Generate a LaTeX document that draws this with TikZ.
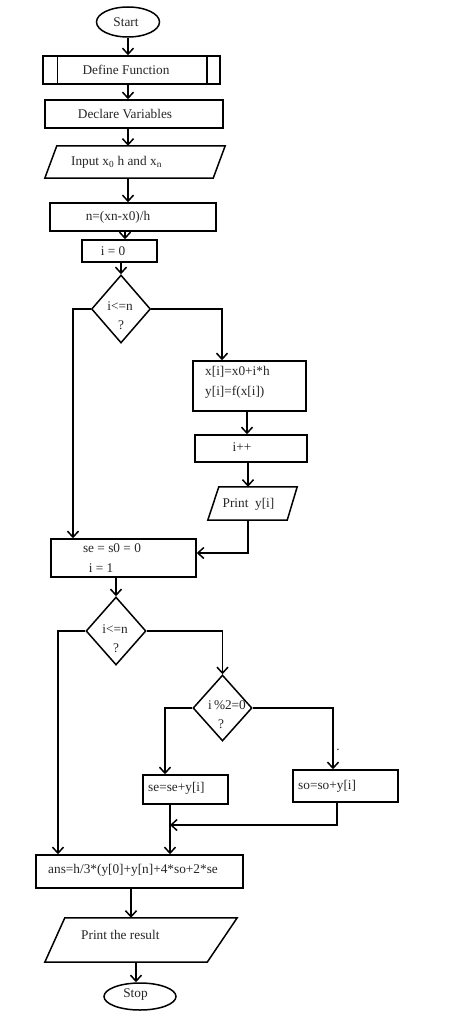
\documentclass[tikz,border=0pt]{standalone}
\usepackage{fontspec}
\setmainfont{Liberation Serif}
\usetikzlibrary{arrows.meta,shapes.geometric,calc}
\begin{document}
\begin{tikzpicture}[x=1pt,y=-1pt,
  shp/.style={draw, line width=1.5pt, inner sep=0pt},
  frame/.style={inner sep=0pt},
  lbl/.style={inner sep=0pt, font=\fontsize{13.3}{16}\selectfont, text=black!85},
  ln/.style={line width=1.5pt},
  arr/.style={line width=1.5pt, -{Straight Barb[length=6pt,width=11pt]}}]
\useasboundingbox[fill=white] (0,0) rectangle (452,1024);

% terminals and boxes
\node[shp, ellipse, minimum width=63pt, minimum height=30pt] (start) at (128,22) {};
\node[lbl] (tstart) at (126,22) {Start};

\node[shp, minimum width=177pt, minimum height=28pt] (def) at (131.5,70) {};
\draw[ln] ([xshift=15pt]def.north west) -- ([xshift=15pt]def.south west);
\draw[ln] ([xshift=-14pt]def.north east) -- ([xshift=-14pt]def.south east);
\node[lbl] (tdef) at (126,70) {Define Function};

\node[shp, minimum width=178pt, minimum height=28pt] (decl) at (134,114) {};
\node[lbl] (tdecl) at (125,114) {Declare Variables};

\node[frame, minimum width=180pt, minimum height=32pt] (inp) at (135,162) {};
\draw[ln] (inp.south west) -- ([xshift=-12pt]inp.south east) -- (inp.north east) -- ([xshift=12pt]inp.north west) -- cycle;
\node[lbl] (tinp) at (116.5,162) {Input x\textsubscript{0} h and x\textsubscript{n}};

\node[shp, minimum width=166pt, minimum height=28pt] (nb) at (133,217) {};
\node[lbl] (tnb) at (118,217) {n=(xn-x0)/h};

\node[shp, minimum width=75pt, minimum height=22pt] (i0) at (119.5,251) {};
\node[lbl] (ti0) at (113,251) {i = 0};

\node[shp, diamond, minimum width=59pt, minimum height=68pt] (d1) at (121,309) {};
\node[lbl] (td1a) at (120,306) {i<=n};
\node[lbl] (td1b) at (121,325) {?};

\node[shp, minimum width=113pt, minimum height=50pt] (xb) at (249.5,386) {};
\node[lbl, anchor=west] (txb1) at (205,372) {x[i]=x0+i*h};
\node[lbl, anchor=west] (txb2) at (205,392) {y[i]=f(x[i])};

\node[shp, minimum width=112pt, minimum height=27pt] (ipp) at (251,448.5) {};
\node[lbl] (tipp) at (242,447) {i++};

\node[frame, minimum width=89pt, minimum height=33pt] (py) at (252.5,503.5) {};
\draw[ln] (py.south west) -- ([xshift=-10pt]py.south east) -- (py.north east) -- ([xshift=11pt]py.north west) -- cycle;
\node[lbl] (tpy) at (248.5,504) {Print\enspace y[i]};

\node[shp, minimum width=145pt, minimum height=38pt] (se) at (123.5,558) {};
\node[lbl] (tse1) at (112,548) {se = s0 = 0};
\node[lbl] (tse2) at (101,568) {i = 1};

\node[shp, diamond, minimum width=60pt, minimum height=68pt] (d2) at (116,631) {};
\node[lbl] (td2a) at (115,629) {i<=n};
\node[lbl] (td2b) at (116,648) {?};

\node[shp, diamond, minimum width=59pt, minimum height=66pt] (d3) at (222.5,708) {};
\node[lbl] (td3a) at (227,705) {i\,\%2=0};
\node[lbl] (td3b) at (221,724) {?};
\node[lbl, anchor=base] (dot) at (338,750) {.};

\node[shp, minimum width=85pt, minimum height=29pt] (sese) at (185.5,789.5) {};
\node[lbl, anchor=west] (tsese) at (148,788) {se=se+y[i]};

\node[shp, minimum width=105pt, minimum height=32pt] (so) at (345.5,786) {};
\node[lbl, anchor=west] (tso) at (298,786) {so=so+y[i]};

\node[shp, minimum width=207pt, minimum height=33pt] (ans) at (139.5,871.5) {};
\node[lbl, anchor=west] (tans) at (48,870) {ans=h/3*(y[0]+y[n]+4*so+2*se};

\node[frame, minimum width=192pt, minimum height=44pt] (pr) at (141,940) {};
\draw[ln] (pr.south west) -- ([xshift=-30pt]pr.south east) -- (pr.north east) -- ([xshift=20pt]pr.north west) -- cycle;
\node[lbl, anchor=west] (tpr) at (81,935) {Print the result};

\node[shp, ellipse, minimum width=72pt, minimum height=27pt] (stop) at (140,996.5) {};
\node[lbl] (tstop) at (135.5,994) {Stop};

% connectors
\draw[arr] (start.south) -- (start.south |- def.north);
\draw[arr] (def.south -| start) -- (decl.north -| start);
\draw[arr] (decl.south -| start) -- (inp.north -| start);
\draw[arr] (inp.south -| start) -- (nb.north -| start);
\draw[arr] ([xshift=-8pt]nb.south) -- ([xshift=-8pt]nb.south |- i0.north);
\draw[arr] (i0.south -| d1.north) -- (d1.north);
\draw[arr] (d1.west) -| ([xshift=-50.5pt]se.north);
\draw[arr] (d1.east) -| ([xshift=-27.5pt]xb.north);
\draw[arr] ([xshift=-2.5pt]xb.south) -- ([xshift=-2.5pt]xb.south |- ipp.north);
\draw[arr] ([xshift=-3pt]ipp.south) -- ([xshift=-3pt]ipp.south |- py.north);
\draw[arr] ([xshift=-4.5pt]py.south) |- ([yshift=5pt]se.east);
\draw[arr] (se.south -| d2.north) -- (d2.north);
\draw[arr] (d2.west) -| ([xshift=-81.5pt]ans.north);
\draw[arr] (d2.east) -| (d3.north);
\draw[arr] (d3.west) -| ([xshift=-20.5pt]sese.north);
\draw[arr] (d3.east) -| ([xshift=-12.5pt]so.north);
\draw[arr] ([xshift=-15.5pt]sese.south) -- ([xshift=-15.5pt]sese.south |- ans.north);
\coordinate (jn) at (170,825);
\draw[arr] ([xshift=-8.5pt]so.south) |- (jn);
\draw[arr] ([xshift=-8.5pt]ans.south) -- ([xshift=-8.5pt]ans.south |- pr.north);
\draw[arr] ([xshift=-5pt]pr.south) -- ([xshift=-5pt]pr.south |- stop.north);
\end{tikzpicture}
\end{document}
